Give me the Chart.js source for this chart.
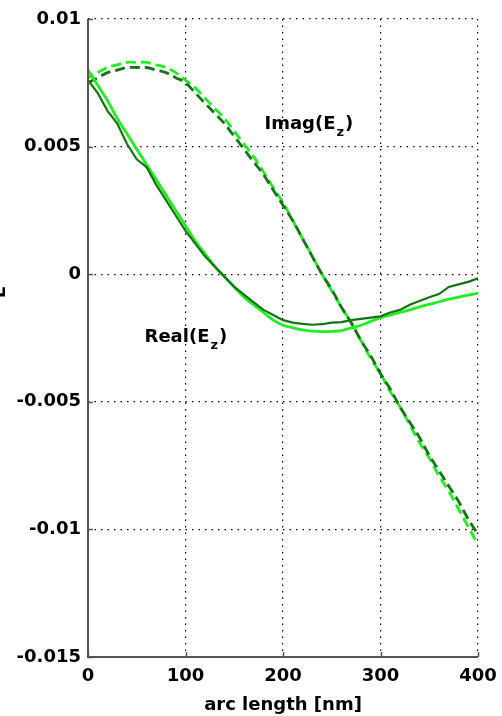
<!DOCTYPE html>
<html>
<head>
<meta charset="utf-8">
<script src="https://cdn.jsdelivr.net/npm/chart.js@4.4.0/dist/chart.umd.min.js"></script>
<style>
  html, body { margin: 0; padding: 0; background: #fff; }
</style>
</head>
<body>
<canvas id="chart1" width="502" height="716"></canvas>
<script>
// arc length along the path [nm]
var arcLength = [0, 10, 20, 30, 40, 50, 60, 70, 80, 90, 100, 110, 120, 130, 140, 150, 160, 170, 180, 190, 200,
  210, 220, 230, 240, 250, 260, 270, 280, 290, 300, 310, 320, 330, 340, 350, 360, 370, 380, 390, 400];

// Real(Ez), dark green (rough) and bright green (smooth)
var realDark = [0.0076, 0.0071, 0.0064, 0.0059, 0.0051, 0.0045, 0.0042, 0.0035, 0.0029, 0.0023, 0.0017,
  0.0012, 0.0007, 0.0003, -0.0001, -0.0005, -0.0008, -0.0011, -0.0014, -0.0016, -0.0018,
  -0.0019, -0.00195, -0.00198, -0.00196, -0.0019, -0.00188, -0.0018, -0.00175, -0.0017, -0.00165,
  -0.0015, -0.0014, -0.0012, -0.00105, -0.0009, -0.00078, -0.0005, -0.0004, -0.0003, -0.00016];
var realBright = [0.0080, 0.0074, 0.0068, 0.0061, 0.0055, 0.0049, 0.0043, 0.0037, 0.0031, 0.0025, 0.0019,
  0.0013, 0.0008, 0.0003, -0.0001, -0.0005, -0.0009, -0.0012, -0.0015, -0.0018, -0.0020,
  -0.0021, -0.00218, -0.00223, -0.00225, -0.00224, -0.00221, -0.0021, -0.0020, -0.00185, -0.0017,
  -0.0016, -0.0015, -0.0014, -0.00128, -0.00118, -0.00108, -0.00098, -0.0009, -0.00082, -0.00075];

// Imag(Ez), dashed
var imagDark = [0.0075, 0.0077, 0.0079, 0.0080, 0.0081, 0.0081, 0.0081, 0.0080, 0.0079, 0.0077, 0.0075,
  0.0071, 0.0067, 0.0063, 0.0059, 0.0054, 0.0049, 0.0044, 0.0039, 0.0033, 0.0027,
  0.0021, 0.0014, 0.0007, 0.0000, -0.0006, -0.0013, -0.0019, -0.0026, -0.0032, -0.0039,
  -0.0045, -0.0052, -0.0058, -0.0064, -0.0071, -0.0077, -0.0083, -0.0089, -0.0096, -0.0102];
var imagBright = [0.0077, 0.0079, 0.0081, 0.0082, 0.0083, 0.0083, 0.0083, 0.0082, 0.0081, 0.0079, 0.0076,
  0.0073, 0.0069, 0.0065, 0.0061, 0.0056, 0.0051, 0.0046, 0.0040, 0.0034, 0.0028,
  0.0021, 0.0014, 0.0007, 0.0000, -0.00065, -0.0013, -0.0019, -0.0026, -0.0033, -0.0039,
  -0.0046, -0.0052, -0.0059, -0.0066, -0.0072, -0.0079, -0.0085, -0.0092, -0.0099, -0.0106];

// axis ticks
var xTicks = [0, 100, 200, 300, 400];
var yTicks = [-0.015, -0.01, -0.005, 0, 0.005, 0.01];

// text labels placed in data units
var imagLabelAt = { x: 181, y: 0.0057 };
var realLabelAt = { x: 58, y: -0.00265 };

var DARK = '#137413';
var BRIGHT = '#1fef1f';
var FAMILY = '"DejaVu Sans", Arial, sans-serif';
var FONT = 'bold 18px ' + FAMILY;

function pts(ys) {
  return arcLength.map(function (x, i) { return { x: x, y: ys[i] }; });
}

// subscripted label like Imag(E_z)
function drawLabel(ctx, px, py, head, sub, tail) {
  ctx.font = FONT;
  ctx.fillText(head, px, py);
  var w = ctx.measureText(head).width;
  ctx.font = 'bold 13px ' + FAMILY;
  ctx.fillText(sub, px + w + 1, py + 7);
  var w2 = ctx.measureText(sub).width;
  ctx.font = FONT;
  ctx.fillText(tail, px + w + w2 + 2, py);
}

var extras = {
  id: 'extras',
  afterDatasetsDraw: function (chart) {
    var ctx = chart.ctx;
    var xs = chart.scales.x, ys = chart.scales.y;
    ctx.save();
    ctx.setLineDash([]);
    ctx.fillStyle = '#000';
    ctx.textAlign = 'left';
    ctx.textBaseline = 'alphabetic';
    drawLabel(ctx, xs.getPixelForValue(imagLabelAt.x), ys.getPixelForValue(imagLabelAt.y), 'Imag(E', 'z', ')');
    drawLabel(ctx, xs.getPixelForValue(realLabelAt.x), ys.getPixelForValue(realLabelAt.y), 'Real(E', 'z', ')');

    // solid left and bottom axes with inward tick marks
    ctx.strokeStyle = '#555';
    ctx.lineWidth = 2;
    ctx.beginPath();
    ctx.moveTo(xs.left, ys.top);
    ctx.lineTo(xs.left, ys.bottom);
    ctx.lineTo(xs.right, ys.bottom);
    ctx.stroke();
    ctx.lineWidth = 1.5;
    ctx.beginPath();
    xTicks.forEach(function (v) {
      var p = Math.round(xs.getPixelForValue(v)) + 0.5;
      ctx.moveTo(p, ys.bottom);
      ctx.lineTo(p, ys.bottom - 5);
    });
    yTicks.forEach(function (v) {
      var p = Math.round(ys.getPixelForValue(v)) + 0.5;
      ctx.moveTo(xs.left, p);
      ctx.lineTo(xs.left + 5, p);
    });
    ctx.stroke();

    // y label, cut off at the left edge
    ctx.translate(5, ys.getPixelForValue(-0.0007));
    ctx.rotate(-Math.PI / 2);
    ctx.font = FONT;
    ctx.textAlign = 'center';
    ctx.fillText('E', 0, 0);
    ctx.restore();
  }
};

var tickFont = { family: FAMILY, size: 18, weight: 'bold' };

var ctx1 = document.getElementById('chart1');
new Chart(ctx1, {
  type: 'line',
  data: {
    datasets: [
      { data: pts(realDark), borderColor: DARK, borderWidth: 2.2, tension: 0 },
      { data: pts(realBright), borderColor: BRIGHT, borderWidth: 2.8, tension: 0.35 },
      { data: pts(imagDark), borderColor: DARK, borderWidth: 2.8, borderDash: [10, 5], tension: 0.35 },
      { data: pts(imagBright), borderColor: BRIGHT, borderWidth: 2.8, borderDash: [10, 5], borderDashOffset: 4, tension: 0.35 }
    ]
  },
  options: {
    responsive: false,
    animation: false,
    events: [],
    elements: { point: { radius: 0 } },
    layout: { padding: { top: 19, right: 24, left: 0, bottom: 0 } },
    plugins: { legend: { display: false }, tooltip: { enabled: false } },
    scales: {
      x: {
        type: 'linear', min: 0, max: 400,
        afterFit: function (s) { s.height = 59; s.paddingRight = 0; },
        afterBuildTicks: function (s) { s.ticks = xTicks.map(function (v) { return { value: v }; }); },
        ticks: { color: '#000', font: tickFont, padding: 9, maxRotation: 0 },
        grid: { color: '#000', lineWidth: 1.2, drawTicks: false },
        border: { display: false, dash: [1.5, 5] },
        title: { display: true, text: 'arc length [nm]', color: '#000', font: tickFont, padding: { top: 0, bottom: 0 } }
      },
      y: {
        min: -0.015, max: 0.01,
        afterFit: function (s) { s.width = 88; },
        afterBuildTicks: function (s) { s.ticks = yTicks.map(function (v) { return { value: v }; }); },
        ticks: {
          color: '#000', font: tickFont, padding: 7,
          callback: function (v) { return String(Number(v.toFixed(3))); }
        },
        grid: { color: '#000', lineWidth: 1.2, drawTicks: false },
        border: { display: false, dash: [1.5, 5] }
      }
    }
  },
  plugins: [extras]
});
</script>
</body>
</html>
